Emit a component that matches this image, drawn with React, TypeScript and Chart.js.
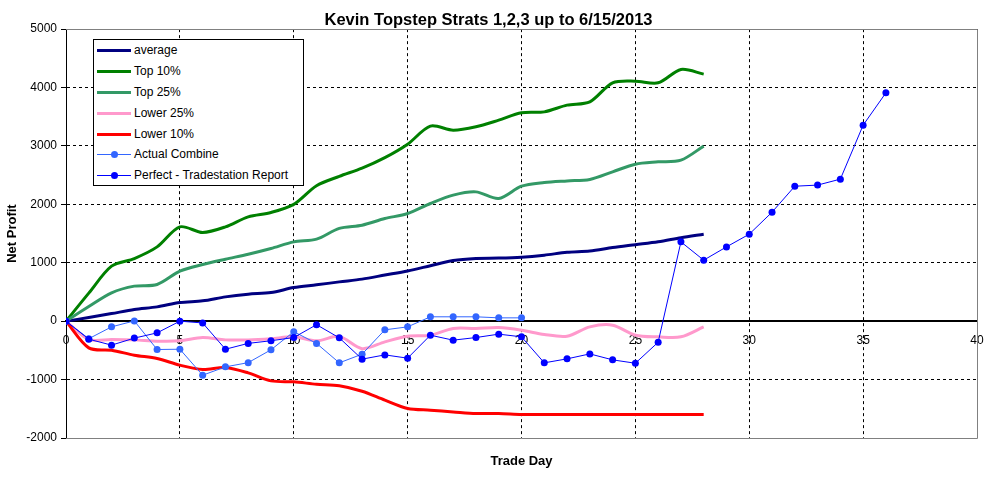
import React, { useEffect, useRef } from "react";
import { Chart, registerables } from "chart.js";

Chart.register(...registerables);

// trade day index for every point (day 0 .. 36)
const tradeDays = [
  0, 1, 2, 3, 4, 5, 6, 7, 8, 9, 10, 11, 12, 13, 14, 15, 16, 17, 18, 19, 20,
  21, 22, 23, 24, 25, 26, 27, 28, 29, 30, 31, 32, 33, 34, 35, 36,
];

const averageProfit = [
  0, 63, 130, 200, 245, 320, 348, 416, 462, 490, 575, 622, 673, 720, 790, 860,
  950, 1040, 1075, 1080, 1095, 1130, 1180, 1200, 1260, 1310, 1360, 1430, 1490,
];
const top10Profit = [
  0, 480, 942, 1073, 1272, 1615, 1519, 1615, 1786, 1861, 2000, 2320, 2480,
  2620, 2800, 3030, 3340, 3270, 3328, 3442, 3567, 3584, 3699, 3756, 4081, 4110,
  4081, 4310, 4230,
];
const top25Profit = [
  0, 250, 485, 600, 628, 856, 970, 1061, 1147, 1245, 1358, 1404, 1590, 1644,
  1757, 1843, 2015, 2158, 2214, 2100, 2311, 2374, 2402, 2426, 2557, 2688, 2728,
  2757, 2997,
];
const lower25Profit = [
  0, -313, -313, -320, -342, -337, -280, -320, -320, -300, -268, -337, -260,
  -470, -354, -257, -240, -125, -125, -108, -154, -228, -257, -97, -68, -240,
  -268, -268, -97,
];
const lower10Profit = [
  0, -457, -497, -582, -639, -753, -827, -793, -885, -1022, -1039, -1079, -1105,
  -1199, -1353, -1495, -1524, -1553, -1581, -1581, -1598, -1598, -1598, -1598,
  -1598, -1598, -1598, -1598, -1598,
];
const actualCombine = [
  0, -300, -97, 5, -485, -480, -925, -782, -710, -490, -180, -380, -713, -565,
  -148, -97, 75, 75, 75, 57, 57,
];
const perfectReport = [
  0, -308, -410, -290, -200, 0, -30, -480, -380, -335, -280, -60, -285, -650,
  -577, -633, -240, -325, -280, -222, -268, -713, -645, -560, -662, -720, -360,
  1358, 1045, 1272, 1490, 1866, 2311, 2330, 2432, 3356, 3910,
];

const xTicks = { min: 0, max: 40, step: 5 };
const yTicks = { min: -2000, max: 5000, step: 1000 };

const FONT = "'Liberation Sans', Arial, sans-serif";

type Series = {
  label: string;
  values: number[];
  color: string;
  width: number;
  markers: boolean;
};

const series: Series[] = [
  { label: "average", values: averageProfit, color: "#000080", width: 3, markers: false },
  { label: "Top 10%", values: top10Profit, color: "#008000", width: 3, markers: false },
  { label: "Top 25%", values: top25Profit, color: "#339966", width: 3, markers: false },
  { label: "Lower 25%", values: lower25Profit, color: "#FF99CC", width: 3, markers: false },
  { label: "Lower 10%", values: lower10Profit, color: "#FF0000", width: 3, markers: false },
  { label: "Actual Combine", values: actualCombine, color: "#3366FF", width: 1, markers: true },
  { label: "Perfect - Tradestation Report", values: perfectReport, color: "#0000FF", width: 1, markers: true },
];

const toPoints = (values: number[]) =>
  values.map((v, i) => ({ x: tradeDays[i], y: v }));

// gray frame on top, right and bottom of the plot area (Excel style)
const plotFrame = {
  id: "plotFrame",
  beforeDatasetsDraw(chart: any) {
    const { ctx, chartArea } = chart;
    const { left, top, right, bottom } = chartArea;
    ctx.save();
    ctx.strokeStyle = "#808080";
    ctx.lineWidth = 1;
    ctx.beginPath();
    ctx.moveTo(Math.round(left), Math.round(top) + 0.5);
    ctx.lineTo(Math.round(right) + 0.5, Math.round(top) + 0.5);
    ctx.lineTo(Math.round(right) + 0.5, Math.round(bottom) + 0.5);
    ctx.lineTo(Math.round(left), Math.round(bottom) + 0.5);
    ctx.stroke();
    ctx.restore();
  },
};

const Legend: React.FC = () => (
  <div
    style={{
      position: "absolute",
      left: 93,
      top: 39,
      width: 211,
      height: 147,
      boxSizing: "border-box",
      border: "1px solid #000",
      background: "#fff",
      fontFamily: FONT,
      fontSize: 12,
      color: "#000",
    }}
  >
    {series.map((s) => (
      <div key={s.label} style={{ position: "relative", height: 20.9 }}>
        <div
          style={{
            position: "absolute",
            left: 3,
            top: 10.45 - s.width / 2,
            width: 34,
            height: s.width,
            background: s.color,
          }}
        />
        {s.markers && (
          <div
            style={{
              position: "absolute",
              left: 16.5,
              top: 7,
              width: 7,
              height: 7,
              borderRadius: "50%",
              background: s.color,
            }}
          />
        )}
        <div
          style={{
            position: "absolute",
            left: 40,
            top: 0,
            lineHeight: "20.9px",
            whiteSpace: "nowrap",
          }}
        >
          {s.label}
        </div>
      </div>
    ))}
  </div>
);

const App: React.FC = () => {
  const canvasRef = useRef<HTMLCanvasElement>(null);

  useEffect(() => {
    document.body.style.margin = "0";
    const ctx = canvasRef.current?.getContext("2d");
    if (!ctx) return;

    const chart = new Chart(ctx, {
      type: "line",
      data: {
        datasets: series.map((s, i) => ({
          label: s.label,
          data: toPoints(s.values),
          borderColor: s.color,
          backgroundColor: s.color,
          borderWidth: s.width,
          tension: s.markers ? 0 : 0.3,
          pointRadius: s.markers ? 3.5 : 0,
          pointBorderWidth: 0,
          pointBackgroundColor: s.color,
          fill: false,
          xAxisID: "x",
          yAxisID: "y",
          order: series.length - i,
        })),
      },
      options: {
        responsive: false,
        animation: false,
        layout: { padding: { left: 0, right: 11, top: 0, bottom: 0 } },
        plugins: {
          legend: { display: false },
          tooltip: { enabled: false },
          title: {
            display: true,
            text: "Kevin Topstep Strats 1,2,3 up to 6/15/2013",
            color: "#000",
            font: { family: FONT, size: 16.5, weight: "bold", lineHeight: 1.1 },
            padding: { top: 11, bottom: 0 },
          },
        },
        scales: {
          x: {
            type: "linear",
            position: "bottom",
            min: xTicks.min,
            max: xTicks.max,
            ticks: { display: false, stepSize: xTicks.step },
            grid: { color: "#000", lineWidth: 1, drawTicks: false },
            border: { display: false, dash: [3, 3] },
            title: {
              display: true,
              text: "Trade Day",
              color: "#000",
              font: { family: FONT, size: 13, weight: "bold" },
              padding: { top: 8, bottom: 8 },
            },
            afterFit: (scale: any) => {
              scale.height = 39;
            },
          },
          // zero line carrying the day labels, like Excel's crossing axis
          x0: {
            type: "linear",
            axis: "x",
            position: { y: 0 },
            min: xTicks.min,
            max: xTicks.max,
            ticks: {
              stepSize: xTicks.step,
              color: "#000",
              font: { family: FONT, size: 12 },
              padding: 0,
              maxRotation: 0,
            },
            grid: {
              display: true,
              drawOnChartArea: false,
              drawTicks: true,
              tickLength: 12,
              tickColor: "rgba(0,0,0,0)",
            },
            border: { display: true, color: "#000", width: 2 },
          },
          y: {
            type: "linear",
            position: "left",
            min: yTicks.min,
            max: yTicks.max,
            ticks: {
              stepSize: yTicks.step,
              color: "#000",
              font: { family: FONT, size: 12 },
              padding: 4,
              callback: (value: any) => String(value),
            },
            grid: {
              color: "#000",
              lineWidth: 1,
              drawTicks: true,
              tickLength: 5,
              tickColor: "#000",
              tickBorderDash: [],
            },
            border: { display: true, color: "#000", width: 1, dash: [3, 3] },
            title: {
              display: true,
              text: "Net Profit",
              color: "#000",
              font: { family: FONT, size: 13, weight: "bold" },
              padding: { top: 5, bottom: 5 },
            },
            afterFit: (scale: any) => {
              scale.width = 66;
            },
          },
        },
      },
      plugins: [plotFrame],
    });

    return () => chart.destroy();
  }, []);

  return (
    <div style={{ position: "relative", width: 988, height: 477, background: "#fff" }}>
      <canvas ref={canvasRef} width={988} height={477} />
      <Legend />
    </div>
  );
};

export default App;
